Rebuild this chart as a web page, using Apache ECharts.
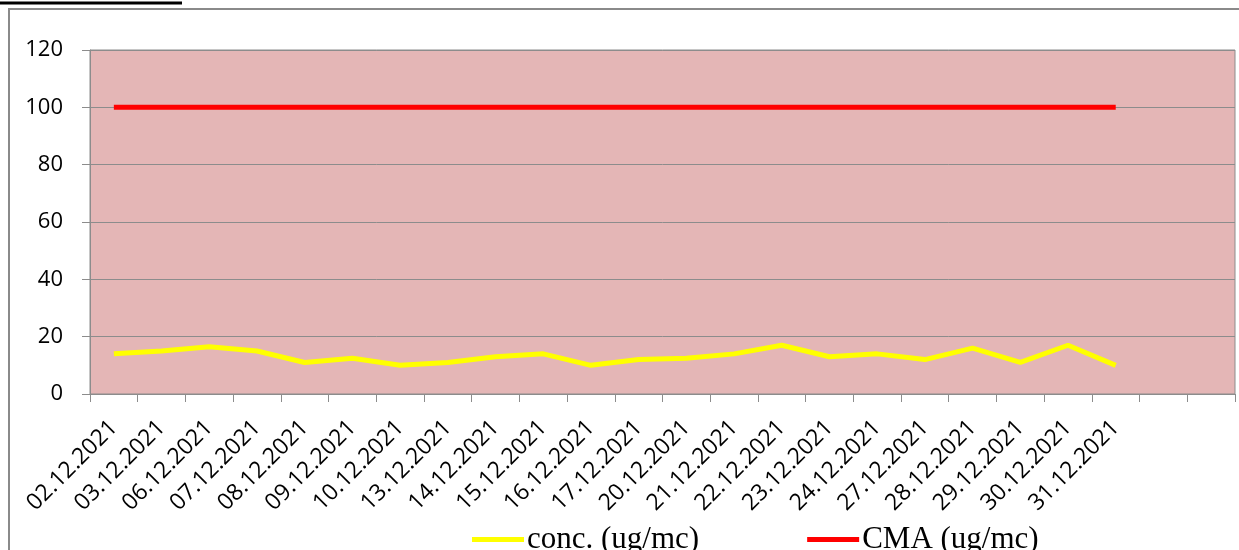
<!DOCTYPE html>
<html><head><meta charset="utf-8">
<script src="https://cdn.jsdelivr.net/npm/echarts@6/dist/echarts.min.js"></script>
<style>html,body{margin:0;padding:0;background:#fff}#c{width:1239px;height:550px}</style>
</head><body><div id="c"></div>
<script>
const categories = ['02.12.2021','03.12.2021','06.12.2021','07.12.2021','08.12.2021','09.12.2021','10.12.2021','13.12.2021','14.12.2021','15.12.2021','16.12.2021','17.12.2021','20.12.2021','21.12.2021','22.12.2021','23.12.2021','24.12.2021','27.12.2021','28.12.2021','29.12.2021','30.12.2021','31.12.2021','',''];
const concValues = [14, 15, 16.5, 15, 11, 12.5, 10, 11, 13, 14, 10, 12, 12.5, 14, 17, 13, 14, 12, 16, 11, 17, 10];
const cmaValues = [100,100,100,100,100,100,100,100,100,100,100,100,100,100,100,100,100,100,100,100,100,100];
const yTicks = {min: 0, max: 120, interval: 20};
const seriesNames = ['conc. (ug/mc)', 'CMA (ug/mc)'];

const chart = echarts.init(document.getElementById('c'));
chart.setOption({
  animation: false,
  backgroundColor: '#fff',
  graphic: [
    {type:'rect', shape:{x:9, y:9, width:1260, height:580}, style:{fill:'none', stroke:'#8a8a8a', lineWidth:2}, z:0},
    {type:'line', shape:{x1:0, y1:3, x2:182, y2:3}, style:{stroke:'#000', lineWidth:3}}
  ],
  grid: {left: 90, right: 4, top: 50, bottom: 156, show: true, backgroundColor: '#E4B6B6', borderColor: '#8c8c8c', borderWidth: 1},
  legend: {
    left: 467, top: 519, icon: 'rect', itemWidth: 52, itemHeight: 5, itemGap: 108,
    textStyle: {fontFamily: 'Liberation Serif', fontSize: 31, color: '#000', padding: [0,0,0,-2]},
    data: seriesNames
  },
  xAxis: {
    type: 'category', data: categories, boundaryGap: true,
    axisLine: {lineStyle: {color: '#8c8c8c', width: 1}},
    axisTick: {show: true, interval: 0, length: 8, lineStyle: {color: '#8c8c8c'}},
    axisLabel: {interval: 0, rotate: 45, margin: 30, fontFamily: 'Open Sans', fontSize: 23, color: '#000'}
  },
  yAxis: {
    type: 'value', min: yTicks.min, max: yTicks.max, interval: yTicks.interval,
    axisLine: {show: true, lineStyle: {color: '#8c8c8c'}},
    axisTick: {show: true, length: 8, inside: false, lineStyle: {color: '#8c8c8c'}},
    axisLabel: {margin: 27, fontFamily: 'Open Sans', fontSize: 22, color: '#000'},
    splitLine: {lineStyle: {color: '#8c8c8c', width: 1}}
  },
  series: [
    {name: seriesNames[0], type: 'line', data: concValues, symbol: 'none', color: '#FFFF00', lineStyle: {width: 5, color: '#FFFF00'}},
    {name: seriesNames[1], type: 'line', data: cmaValues, symbol: 'none', color: '#FF0000', lineStyle: {width: 5, color: '#FF0000'}}
  ]
});
</script></body></html>
